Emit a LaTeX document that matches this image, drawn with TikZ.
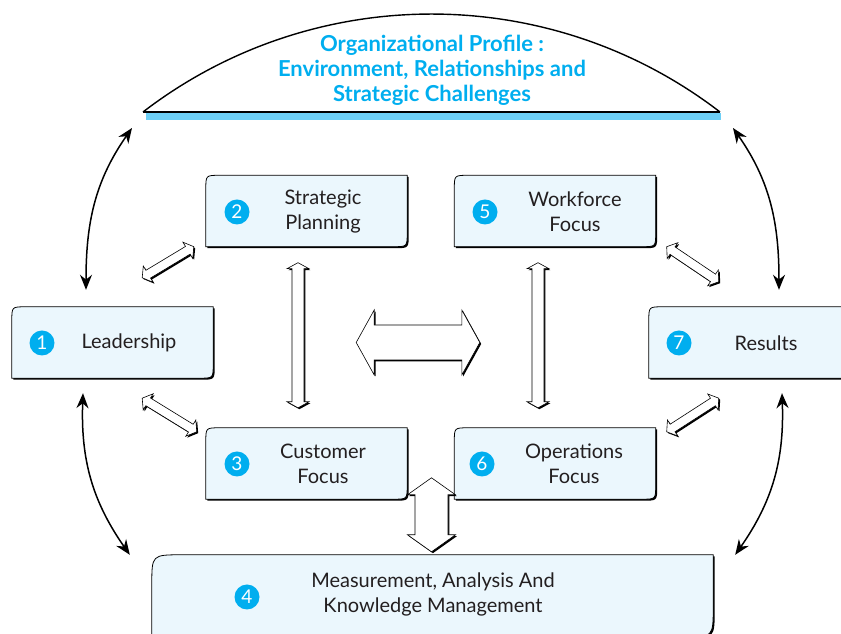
\documentclass[tikz,border=0pt]{standalone}
\usepackage{fontspec}
\setmainfont{Lato}
\usetikzlibrary{arrows.meta,calc}

\definecolor{profileblue}{HTML}{00AEEF}
\definecolor{bandblue}{HTML}{6DCFF6}
\definecolor{boxfill}{HTML}{EBF7FD}
\definecolor{inkgray}{HTML}{231F20}

\tikzset{
  arrowshadow/.style={fill=black, transform canvas={shift={(1.4pt,-1.4pt)}}},
  arrowbody/.style={fill=white, draw=black, line width=0.6pt},
}

% hollow two-headed arrow: from, to, shaft half, head half, head length
\newcommand{\hollowarrow}[5]{%
  \coordinate (ha) at (#1);
  \coordinate (hb) at (#2);
  \coordinate (hc) at ($(ha)!#5!(hb)$);
  \coordinate (hd) at ($(hb)!#5!(ha)$);
  \foreach \sty in {arrowshadow,arrowbody} {
    \path[\sty] (ha) -- ($(hc)!#4!90:(hb)$) -- ($(hc)!#3!90:(hb)$)
      -- ($(hd)!#3!-90:(ha)$) -- ($(hd)!#4!-90:(ha)$) -- (hb)
      -- ($(hd)!#4!90:(ha)$) -- ($(hd)!#3!90:(ha)$)
      -- ($(hc)!#3!-90:(hb)$) -- ($(hc)!#4!-90:(hb)$) -- cycle;
  }
}

\begin{document}
\begin{tikzpicture}[x=1pt,y=1pt]
    \useasboundingbox (0,0) rectangle (841,634);
    \clip (0,0) rectangle (841,634);

    % profile dome
    \coordinate (arcL) at (143,522);
    \coordinate (arcR) at (720,522);
    \fill[bandblue] (146,521) rectangle (721,514);
    \draw[line width=1.4pt] (arcL) .. controls (313,652.6) and (550,652.6) .. (arcR);
    \draw[line width=1.8pt] (arcL) -- (arcR);
    \node[align=center, text=profileblue, font=\bfseries\fontsize{22}{25}\selectfont] (profile) at (432,564)
        {Organizational Profile :\\ Environment, Relationships and\\ Strategic Challenges};

    \begin{scope}[every node/.style={minimum width=201pt, minimum height=71pt, inner sep=0pt}]
        \node (lead) at (112.5,291.5) {};
        \node (plan) at (306.5,423) {};
        \node (work) at (555,423) {};
        \node (cust) at (306.5,170.5) {};
        \node (oper) at (555,170.5) {};
        \node (res) at (749.5,291.5) {};
        \node[minimum width=561pt, minimum height=82pt] (meas) at (432.5,38) {};
    \end{scope}

    \foreach \b/\r in {lead/14,plan/14,work/14,cust/14,oper/14,res/14,meas/30} {
        \fill[transform canvas={shift={(1.5pt,-1.5pt)}}]
            ([yshift=-\r pt]\b.north west) .. controls (\b.north west) .. ([xshift=\r pt]\b.north west)
            -- (\b.north east) -- ([yshift=\r pt]\b.south east) .. controls (\b.south east) .. ([xshift=-\r pt]\b.south east)
            -- (\b.south west) -- cycle;
        \filldraw[fill=boxfill, line width=0.8pt]
            ([yshift=-\r pt]\b.north west) .. controls (\b.north west) .. ([xshift=\r pt]\b.north west)
            -- (\b.north east) -- ([yshift=\r pt]\b.south east) .. controls (\b.south east) .. ([xshift=-\r pt]\b.south east)
            -- (\b.south west) -- cycle;
    }

    \begin{scope}[every node/.style={circle, fill=profileblue, text=white, minimum size=25pt, inner sep=0pt, font=\fontsize{19}{19}\selectfont}]
        \node (n1) at (42,291) {1};
        \node (n2) at (237,422) {2};
        \node (n3) at (237,170) {3};
        \node (n4) at (247,37) {4};
        \node (n5) at (485,422) {5};
        \node (n6) at (482,170) {6};
        \node (n7) at (679,291) {7};
    \end{scope}

    \begin{scope}[every node/.style={align=center, text=inkgray, font=\fontsize{20}{25}\selectfont}]
        \node (t1) at (129,291) {Leadership};
        \node (t2) at (323,422) {Strategic\\ Planning};
        \node (t3) at (323,170) {Customer\\ Focus};
        \node (t4) at (433,40) {Measurement, Analysis And\\ Knowledge Management};
        \node (t5) at (575,422) {Workforce\\ Focus};
        \node (t6) at (574,170) {Operations\\ Focus};
        \node (t7) at (766,291) {Results};
    \end{scope}

    % curved links to profile and measurement
    \begin{scope}[line width=1.5pt, >={Stealth[length=15pt,width=12pt]}]
        \draw[<->] ([xshift=-26.5pt,yshift=17pt]lead.north) to[out=90,in=235] ([xshift=-11pt,yshift=-16pt]arcL);
        \draw[<->] ([xshift=13pt,yshift=-16pt]arcR) to[out=305,in=90] ([xshift=29.5pt,yshift=17pt]res.north);
        \draw[<->] ([xshift=-29.5pt,yshift=-15pt]lead.south) to[out=268,in=125] ([xshift=-22pt]meas.north west);
        \draw[<->] ([xshift=32.5pt,yshift=-15pt]res.south) to[out=272,in=55] ([xshift=22pt]meas.north east);
    \end{scope}

    % hollow arrows
    \hollowarrow{[xshift=-71pt,yshift=29pt]lead.north east}{[xshift=-12pt]plan.south west}{4.5pt}{9.5pt}{7pt}
    \hollowarrow{[xshift=-71pt,yshift=-20pt]lead.south east}{[xshift=-9pt,yshift=-4pt]cust.north west}{4.5pt}{9.5pt}{7pt}
    \hollowarrow{[xshift=11pt]work.south east}{[xshift=70pt,yshift=25pt]res.north west}{4.5pt}{9.5pt}{7pt}
    \hollowarrow{[xshift=11pt,yshift=-4pt]oper.north east}{[xshift=70pt,yshift=-20pt]res.south west}{4.5pt}{9.5pt}{7pt}
    \hollowarrow{[xshift=-8.5pt,yshift=-16pt]plan.south}{[xshift=-8.5pt,yshift=20pt]cust.north}{6pt}{11pt}{6pt}
    \hollowarrow{[xshift=-17pt,yshift=-16pt]work.south}{[xshift=-17pt,yshift=20pt]oper.north}{6pt}{11pt}{6pt}
    \hollowarrow{[xshift=143pt]lead.east}{[xshift=-169pt]res.west}{17.5pt}{32.5pt}{18pt}
    \hollowarrow{[xshift=-1pt,yshift=77pt]meas.north}{[xshift=-1pt,yshift=3pt]meas.north}{16.5pt}{24pt}{17pt}
\end{tikzpicture}
\end{document}
